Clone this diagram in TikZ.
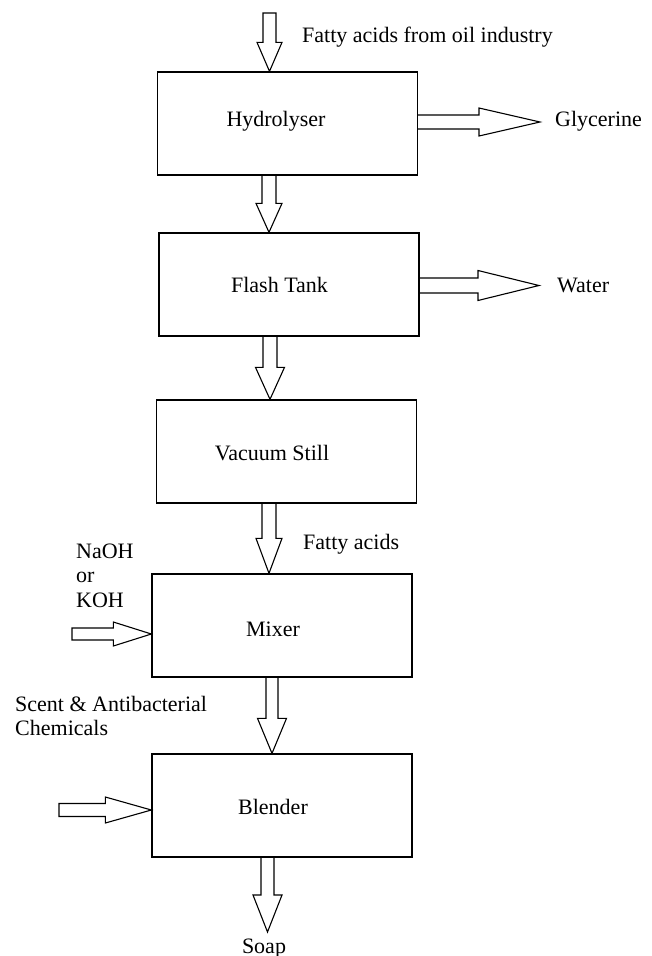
\documentclass[tikz,border=0pt]{standalone}
\usepackage{fontspec}
\setmainfont{Liberation Serif}
\usetikzlibrary{calc}
\tikzset{
  box/.style={draw, line width=1.3pt, minimum width=260pt, minimum height=103pt, inner sep=0pt},
  blk/.style={draw, line width=1.1pt, line join=miter},
  lbl/.style={font=\fontsize{22}{24.5}\selectfont, inner sep=0pt},
}
% vertical (downward) block arrow: tail, tip, half shaft, half head, head length, end
\newcommand\vblk[6]{\draw[blk] let \p1=(#1), \p2=(#2) in
  (\x2-#3,\y1) -- (\x2-#3,\y2+#5) -- (\x2-#4,\y2+#5) -- (\p2) -- (\x2+#4,\y2+#5) -- (\x2+#3,\y2+#5) -- (\x2+#3,\y1) #6;}
% horizontal (rightward) block arrow
\newcommand\hblk[6]{\draw[blk] let \p1=(#1), \p2=(#2) in
  (\x1,\y2+#3) -- (\x2-#5,\y2+#3) -- (\x2-#5,\y2+#4) -- (\p2) -- (\x2-#5,\y2-#4) -- (\x2-#5,\y2-#3) -- (\x1,\y2-#3) #6;}
\begin{document}
\begin{tikzpicture}[x=1pt,y=-1pt]
\useasboundingbox (0,0) rectangle (651,956);
% boxes
\node[box] (hyd) at (287.5,123.5) {};
\node[box] (fl)  at (289,284.5) {};
\node[box] (vac) at (286.5,451.5) {};
\node[box] (mix) at (282,625.5) {};
\node[box] (bl)  at (282,805.5) {};
% box labels
\node[lbl, anchor=base] (hydt) at (276,126) {Hydrolyser};
\node[lbl, anchor=base] (flt)  at (279.5,292) {Flash Tank};
\node[lbl, anchor=base] (vact) at (272,460) {Vacuum Still};
\node[lbl, anchor=base] (mixt) at (273,636) {Mixer};
\node[lbl, anchor=base] (blt)  at (273,814) {Blender};
% free ends
\coordinate (feed) at (269.5,13);
\coordinate (glyend) at (540,122);
\coordinate (watend) at (539,285.5);
\coordinate (naoh) at (72,634);
\coordinate (scent) at (59,810);
\coordinate (soapend) at (267.5,932);
% arrows
\vblk{feed}{269.5,0 |- hyd.north}{6.5pt}{12.5pt}{29pt}{-- cycle}
\vblk{269,0 |- hyd.south}{269,0 |- fl.north}{7pt}{13pt}{29pt}{}
\vblk{270,0 |- fl.south}{270,0 |- vac.north}{7pt}{14.5pt}{32pt}{}
\vblk{269,0 |- vac.south}{269,0 |- mix.north}{7pt}{13pt}{35pt}{}
\vblk{272,0 |- mix.south}{272,0 |- bl.north}{6pt}{14.5pt}{35pt}{}
\vblk{267.5,0 |- bl.south}{soapend}{6.5pt}{14.5pt}{37pt}{}
\hblk{hyd.east |- glyend}{glyend}{7pt}{14pt}{61pt}{}
\hblk{fl.east |- watend}{watend}{7.5pt}{15pt}{61pt}{}
\hblk{naoh}{mix.west |- naoh}{6pt}{12pt}{38pt}{-- cycle}
\hblk{scent}{bl.west |- scent}{6.5pt}{13pt}{46pt}{-- cycle}
% stream labels
\node[lbl, anchor=base west] (feedt) at (302,42) {Fatty acids from oil industry};
\node[lbl, anchor=base west] (glyt) at (555,126) {Glycerine};
\node[lbl, anchor=base west] (watt) at (557,292) {Water};
\node[lbl, anchor=base west] (fat) at (303,549) {Fatty acids};
\node[lbl, anchor=base west] (naoht1) at (76,558) {NaOH};
\node[lbl, anchor=base west] (naoht2) at (76,582) {or};
\node[lbl, anchor=base west] (naoht3) at (76,607) {KOH};
\node[lbl, anchor=base west] (scentt1) at (15,711) {Scent \& Antibacterial};
\node[lbl, anchor=base west] (scentt2) at (15,735) {Chemicals};
\node[lbl, anchor=base] (soapt) at (264,953) {Soap};
\end{tikzpicture}
\end{document}
